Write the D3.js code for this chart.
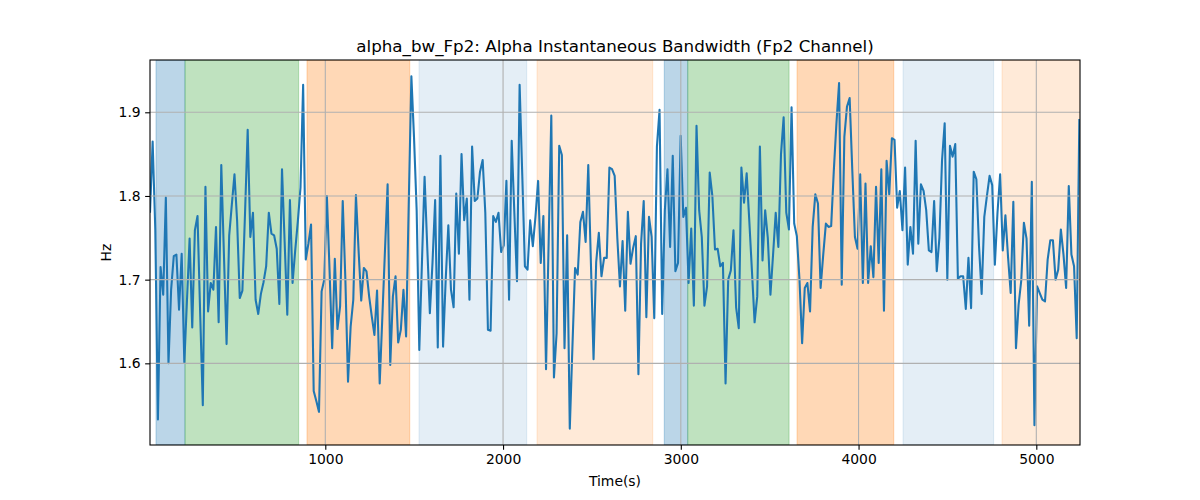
<!DOCTYPE html>
<html>
<head>
<meta charset="utf-8">
<script src="https://cdn.jsdelivr.net/npm/d3@7"></script>
<style>
  html, body { margin: 0; padding: 0; background: #fff; }
  svg { display: block; font-family: "DejaVu Sans", sans-serif; }
</style>
</head>
<body>
<svg id="chart" width="1200" height="500"></svg>
<script>
// ---- data ----
const title = "alpha_bw_Fp2: Alpha Instantaneous Bandwidth (Fp2 Channel)";
const xLabel = "Time(s)";
const yLabel = "Hz";
const startTime = 13.8;       // s, first sample
const sampleStep = 14.853;    // s between samples
const bandwidth = [
1.78,1.865,1.76,1.533,1.715,1.682,1.798,1.600,1.688,1.728,
1.730,1.664,1.731,1.601,1.675,1.749,1.643,1.759,1.776,1.66,
1.550,1.811,1.662,1.696,1.688,1.763,1.649,1.837,1.73,1.623,
1.753,1.79,1.826,1.77,1.678,1.687,1.78,1.879,1.751,1.780,
1.676,1.659,1.683,1.697,1.716,1.780,1.755,1.753,1.737,1.671,
1.832,1.745,1.658,1.795,1.696,1.735,1.77,1.81,1.933,1.724,
1.743,1.766,1.567,1.555,1.542,1.686,1.700,1.800,1.712,1.618,
1.725,1.641,1.668,1.794,1.70,1.578,1.644,1.676,1.801,1.735,
1.675,1.714,1.710,1.680,1.656,1.634,1.687,1.576,1.655,1.735,
1.814,1.598,1.68,1.704,1.625,1.640,1.688,1.632,1.79,1.943,
1.87,1.783,1.616,1.72,1.823,1.74,1.660,1.72,1.795,1.619,
1.848,1.620,1.70,1.765,1.688,1.667,1.803,1.731,1.850,1.771,
1.797,1.676,1.859,1.794,1.797,1.829,1.843,1.78,1.640,1.639,
1.776,1.769,1.780,1.733,1.741,1.818,1.676,1.866,1.78,1.698,
1.933,1.825,1.716,1.712,1.771,1.740,1.775,1.818,1.720,1.776,
1.593,1.746,1.896,1.583,1.636,1.860,1.849,1.618,1.753,1.522,
1.62,1.714,1.706,1.769,1.781,1.745,1.837,1.72,1.605,1.721,
1.756,1.704,1.726,1.726,1.834,1.832,1.824,1.75,1.692,1.746,
1.663,1.781,1.719,1.738,1.752,1.587,1.743,1.794,1.655,1.775,
1.751,1.654,1.859,1.903,1.659,1.783,1.832,1.739,1.848,1.710,
1.720,1.872,1.775,1.786,1.696,1.761,1.669,1.884,1.783,1.751,
1.669,1.692,1.828,1.80,1.736,1.737,1.716,1.720,1.576,1.700,
1.711,1.759,1.667,1.642,1.834,1.792,1.827,1.77,1.71,1.649,
1.680,1.859,1.723,1.783,1.75,1.682,1.73,1.780,1.739,1.85,
1.894,1.78,1.760,1.906,1.767,1.752,1.70,1.624,1.690,1.696,
1.662,1.763,1.802,1.791,1.690,1.73,1.767,1.763,1.764,1.83,
1.887,1.935,1.694,1.871,1.907,1.917,1.831,1.751,1.737,1.826,
1.696,1.815,1.696,1.740,1.703,1.811,1.720,1.832,1.663,1.842,
1.802,1.869,1.867,1.786,1.806,1.759,1.834,1.718,1.763,1.731,
1.866,1.743,1.814,1.806,1.783,1.735,1.733,1.794,1.710,1.75,
1.843,1.887,1.700,1.860,1.847,1.862,1.701,1.704,1.704,1.665,
1.726,1.666,1.829,1.820,1.74,1.683,1.775,1.80,1.824,1.813,
1.718,1.78,1.826,1.735,1.777,1.727,1.684,1.793,1.618,1.67,
1.699,1.768,1.749,1.645,1.817,1.526,1.692,1.684,1.676,1.674,
1.724,1.747,1.747,1.700,1.712,1.760,1.73,1.690,1.812,1.73,
1.716,1.630,1.892
];
// shaded stage spans [start, end] in seconds and their kind
const spanStarts = [47.5, 210.7, 897, 1527, 2191, 2907, 3039, 3654, 4250, 4807];
const spanEnds   = [210.7, 850, 1475, 2133, 2842, 3039, 3609, 4198, 4760, 5300];
const spanKinds  = ["blue", "green", "orange", "lightblue", "lightorange",
                    "blue", "green", "orange", "lightblue", "lightorange"];
const xTicks = [1000, 2000, 3000, 4000, 5000];
const yTicks = [1.6, 1.7, 1.8, 1.9];
const xDomain = [13.8, 5245.8];
const yDomain = [1.5024, 1.9625];

// ---- layout ----
const svg = d3.select("#chart");
const L = 150, R = 1080, T = 60, B = 445;
const x = d3.scaleLinear().domain(xDomain).range([L, R]);
const y = d3.scaleLinear().domain(yDomain).range([B, T]);

const kindStyle = {
  blue:        { c: "#1f77b4", a: 0.3 },
  green:       { c: "#2ca02c", a: 0.3 },
  orange:      { c: "#ff7f0e", a: 0.3 },
  lightblue:   { c: "#1f77b4", a: 0.12 },
  lightorange: { c: "#ff7f0e", a: 0.16 }
};

svg.append("defs").append("clipPath").attr("id", "clip")
  .append("rect").attr("x", L).attr("y", T).attr("width", R - L).attr("height", B - T);

const plot = svg.append("g").attr("clip-path", "url(#clip)");

// spans
const spans = spanStarts.map((s, i) => ({ s, e: spanEnds[i], k: spanKinds[i] }));
plot.selectAll("rect.span").data(spans).enter().append("rect")
  .attr("class", "span")
  .attr("x", d => x(d.s))
  .attr("width", d => x(d.e) - x(d.s))
  .attr("y", T).attr("height", B - T)
  .attr("fill", d => kindStyle[d.k].c)
  .attr("fill-opacity", d => kindStyle[d.k].a)
  .attr("stroke", d => kindStyle[d.k].c)
  .attr("stroke-opacity", d => kindStyle[d.k].a)
  .attr("stroke-width", 1);

// grid
const grid = svg.append("g");
grid.selectAll("line.gx").data(xTicks).enter().append("line")
  .attr("x1", d => x(d)).attr("x2", d => x(d)).attr("y1", T).attr("y2", B)
  .attr("stroke", "#b0b0b0").attr("stroke-width", 1.1);
grid.selectAll("line.gy").data(yTicks).enter().append("line")
  .attr("y1", d => y(d)).attr("y2", d => y(d)).attr("x1", L).attr("x2", R)
  .attr("stroke", "#b0b0b0").attr("stroke-width", 1.1);

// line
const pts = bandwidth.map((v, i) => [startTime + i * sampleStep, v]);
plot.append("path").datum(pts)
  .attr("fill", "none").attr("stroke", "#1f77b4").attr("stroke-width", 2.08)
  .attr("stroke-linejoin", "round").attr("stroke-linecap", "butt")
  .attr("d", d3.line().x(d => x(d[0])).y(d => y(d[1])));

// axes
const xAxis = d3.axisBottom(x).tickValues(xTicks).tickFormat(d3.format("d"))
  .tickSize(4.86).tickPadding(4.5);
const yAxis = d3.axisLeft(y).tickValues(yTicks).tickFormat(d3.format(".1f"))
  .tickSize(4.86).tickPadding(4.5);

const gx = svg.append("g").attr("transform", `translate(0,${B})`).call(xAxis);
const gy = svg.append("g").attr("transform", `translate(${L},0)`).call(yAxis);
[gx, gy].forEach(g => {
  g.select(".domain").remove();
  g.selectAll(".tick line").attr("stroke", "#000").attr("stroke-width", 1.1);
  g.selectAll(".tick text").attr("fill", "#000")
    .style("font-family", "DejaVu Sans").style("font-size", "13.9px");
});

// frame
svg.append("rect").attr("x", L).attr("y", T).attr("width", R - L).attr("height", B - T)
  .attr("fill", "none").attr("stroke", "#000").attr("stroke-width", 1.1);

// texts
svg.append("text").attr("x", (L + R) / 2).attr("y", 52)
  .attr("text-anchor", "middle").style("font-size", "16.7px").attr("fill", "#000")
  .text(title);
svg.append("text").attr("x", (L + R) / 2).attr("y", 486)
  .attr("text-anchor", "middle").style("font-size", "13.9px").attr("fill", "#000")
  .text(xLabel);
svg.append("text").attr("transform", `translate(111,${(T + B) / 2}) rotate(-90)`)
  .attr("text-anchor", "middle").style("font-size", "13.9px").attr("fill", "#000")
  .text(yLabel);
</script>
</body>
</html>
